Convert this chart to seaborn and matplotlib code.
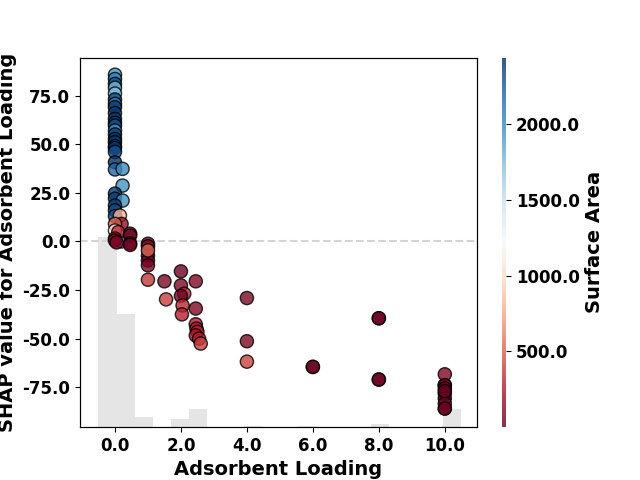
import numpy as np
import pandas as pd
import seaborn as sns
import matplotlib.pyplot as plt
from matplotlib.colors import Normalize
from matplotlib.cm import ScalarMappable

plt.rcParams["font.weight"] = "bold"
plt.rcParams["axes.labelweight"] = "bold"

# scatter points: adsorbent loading, SHAP value, surface area
loading = [
    0.2,
    0, 0, 0, 0, 0, 0, 0, 0, 0, 0, 0, 0, 0, 0, 0, 0, 0, 0, 0, 0, 0,
    0.23, 0.23, 0, 0, 0.23, 0, 0, 0,
    0.15, 0.2, 0, 0, 0.1, 0.46, 0.46, 0, 0, 0.05, 0.46, 0.46,
    1, 1, 1, 1, 1, 1, 1,
    1.5, 1.55,
    2, 2, 2.1, 2, 2.05, 2.03,
    2.45, 2.45, 2.45, 2.47, 2.5, 2.45, 2.55, 2.6,
    4, 4, 4,
    6, 6,
    8, 8, 8, 8,
    10, 10, 10, 10, 10, 10, 10, 10, 10, 10,
]
shap_value = [
    0.0,
    85.7, 83.5, 81, 79, 76, 73, 70.7, 69, 66, 63, 61, 59.5, 57, 55, 52.7, 51, 49, 48, 46, 40.7, 37,
    37.3, 28.7, 24.6, 22, 21, 18.5, 16, 13,
    13.3, 9, 9, 5.6, 4.8, 4, 3, 1.5, 0.5, -0.5, -1, -1.8,
    -1.2, -2.5, -7.2, -9.8, -12.3, -4.6, -19.7,
    -20.5, -29.8,
    -15.4, -22.6, -26.9, -28, -32.9, -37.5,
    -20.5, -34.5, -42.6, -44.8, -46.5, -48.3, -50, -52.5,
    -29.1, -51.3, -61.8,
    -64.5, -64.5,
    -39.5, -39.5, -71, -71,
    -68.3, -73.9, -73.9, -75.6, -78.2, -80.7, -83.3, -85.9, -85.9, -77,
]
surface_area = [
    1900,
    1950, 2050, 2300, 1800, 1750, 2350, 2050, 2400, 2400, 2420, 2400, 2300, 1950, 2380, 2420, 2400, 2350, 2440, 2300, 2440, 2200,
    2000, 1950, 2420, 2380, 1950, 2400, 2350, 2300,
    800, 150, 500, 1150, 300, 20, 40, 250, 100, 60, 20, 30,
    30, 60, 20, 30, 60, 520, 350,
    80, 380,
    20, 90, 280, 20, 300, 270,
    90, 90, 250, 230, 260, 220, 240, 380,
    80, 80, 400,
    10, 10,
    10, 10, 10, 10,
    80, 10, 10, 10, 10, 10, 10, 10, 10, 0,
]

# background histogram of adsorbent loading (counts per bin)
hist_edges = np.linspace(-0.5, 10.5, 21)
hist_counts = [116, 69, 6, 0, 5, 11, 0, 0, 1, 0, 0, 1, 0, 0, 0, 2, 0, 0, 0, 11]
n_samples = 226

df = pd.DataFrame({"loading": loading, "shap": shap_value, "sa": surface_area})
vmin, vmax = df["sa"].min(), df["sa"].max()

fig, ax = plt.subplots(figsize=(6.4, 4.8), dpi=100)

ax.axhline(0, color="#d4d4d4", linestyle="--", linewidth=1.5, zorder=0)
sns.scatterplot(
    data=df, x="loading", y="shap", hue="sa", palette="RdBu",
    hue_norm=(vmin, vmax), s=90, alpha=0.8, edgecolor="black",
    linewidth=1, legend=False, ax=ax, zorder=3,
)

sm = ScalarMappable(norm=Normalize(vmin, vmax), cmap="RdBu")
cb = fig.colorbar(sm, ax=ax, aspect=80, alpha=0.8, ticks=[500, 1000, 1500, 2000])
cb.outline.set_visible(False)
cb.ax.set_yticklabels([f"{t:.1f}" for t in [500, 1000, 1500, 2000]])
cb.ax.tick_params(labelsize=12)
cb.set_label("Surface Area", fontsize=14, fontweight="bold")

ax2 = ax.twinx()
centers = (hist_edges[:-1] + hist_edges[1:]) / 2
ax2.hist(centers, bins=hist_edges, weights=hist_counts, facecolor="#000000", alpha=0.1)
ax2.set_ylim(0, n_samples)
ax2.set_yticks([])
ax.set_zorder(ax2.get_zorder() + 1)
ax.patch.set_visible(False)

ax.set_xlim(-1.06, 10.97)
ax.set_ylim(-95.5, 94.5)
ax.set_xticks([0, 2, 4, 6, 8, 10])
ax.set_xticklabels([f"{t:.1f}" for t in [0, 2, 4, 6, 8, 10]])
ax.set_yticks([-75, -50, -25, 0, 25, 50, 75])
ax.set_yticklabels([f"{t:.1f}" for t in [-75, -50, -25, 0, 25, 50, 75]])
ax.tick_params(labelsize=12)
ax.set_xlabel("Adsorbent Loading", fontsize=14)
ax.set_ylabel("SHAP value for Adsorbent Loading", fontsize=14)

plt.savefig("out.png", dpi=100)
